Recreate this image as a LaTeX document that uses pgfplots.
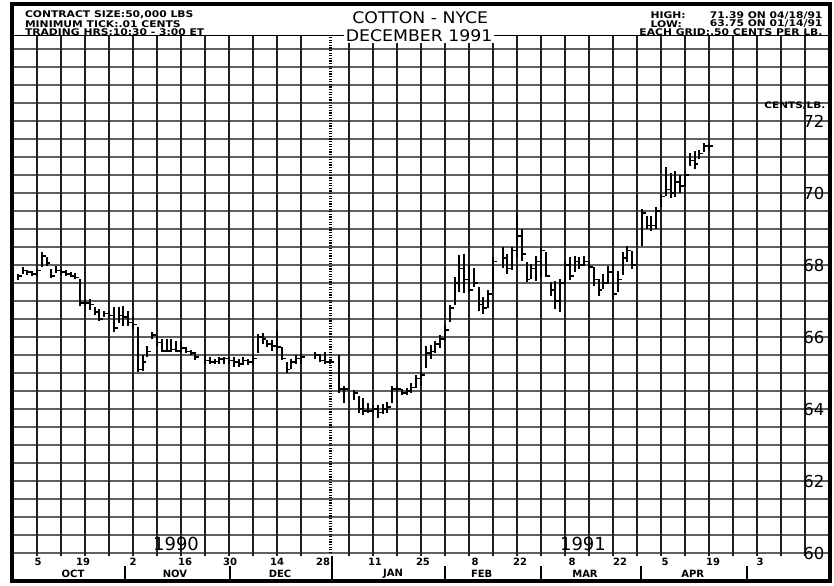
\documentclass[border=0pt]{standalone}
\usepackage{pgfplots}
\pgfplotsset{compat=1.18}
\usepackage{pgfplotstable}
\usepackage{fontspec}
\setmainfont{DejaVu Sans}
\newfontfamily\hdrfont[FakeStretch=1.17]{DejaVu Sans}
\newfontfamily\ttlfont[FakeStretch=1.08]{DejaVu Sans}

\pgfdeclareplotmark{closetick}{%
  \pgfpathmoveto{\pgfpoint{0pt}{0pt}}%
  \pgfpathlineto{\pgfpoint{3.8pt}{0pt}}%
  \pgfusepathqstroke}

% x = weeks after Fri 5 Oct 1990 (0.2 = one trading day); l = low, h = high, c = close (cents/lb)
\pgfplotstableread{
x l h c
-0.8 67.58 67.75 67.70
-0.6 67.75 67.95 67.85
-0.4 67.72 67.85 67.80
-0.2 67.70 67.82 67.75
0.0 67.68 67.90 67.85
0.2 67.95 68.35 68.25
0.4 67.98 68.22 68.05
0.6 67.65 67.90 67.70
0.8 67.78 67.98 67.85
1.0 67.72 67.90 67.80
1.2 67.70 67.85 67.75
1.4 67.66 67.80 67.70
1.6 67.62 67.78 67.65
1.8 66.85 67.60 66.95
2.0 66.85 67.05 66.95
2.2 66.75 67.06 66.90
2.4 66.60 66.83 66.70
2.6 66.45 66.78 66.50
2.8 66.55 66.73 66.65
3.0 66.50 66.73 66.60
3.2 66.15 66.83 66.25
3.4 66.38 66.83 66.60
3.6 66.32 66.87 66.55
3.8 66.32 66.73 66.40
4.0 66.23 66.55 66.35
4.2 65.02 66.27 65.10
4.4 65.07 65.49 65.30
4.6 65.44 65.76 65.60
4.8 65.95 66.13 66.05
5.0 65.76 66.04 65.85
5.2 65.58 65.95 65.62
5.4 65.58 65.95 65.62
5.6 65.58 65.95 65.65
5.8 65.58 65.90 65.62
6.0 65.58 65.90 65.70
6.2 65.55 65.72 65.60
6.4 65.49 65.64 65.55
6.6 65.35 65.58 65.45
7.0 65.26 65.50 65.35
7.2 65.26 65.44 65.30
7.4 65.26 65.40 65.32
7.6 65.26 65.44 65.38
7.8 65.26 65.44 65.40
8.0 65.26 65.44 65.35
8.2 65.16 65.44 65.30
8.4 65.16 65.40 65.25
8.6 65.21 65.44 65.35
8.8 65.21 65.40 65.30
9.0 65.21 65.49 65.40
9.2 65.55 66.09 66.00
9.4 65.82 66.10 65.95
9.6 65.72 65.92 65.80
9.8 65.62 65.92 65.75
10.0 65.67 66.18 65.72
10.2 65.35 65.72 65.40
10.4 65.00 65.30 65.10
10.6 65.12 65.40 65.30
10.8 65.26 65.49 65.40
11.0 65.26 65.53 65.45
11.6 65.40 65.58 65.50
11.8 65.30 65.53 65.35
12.0 65.26 65.58 65.30
12.2 65.25 65.38 65.30
12.6 64.44 65.51 64.55
12.8 64.17 64.63 64.55
13.2 64.26 64.54 64.45
13.4 63.89 64.35 64.00
13.6 63.84 64.31 63.95
13.8 63.89 64.17 63.95
14.0 63.89 64.12 64.00
14.2 63.75 64.12 63.90
14.4 63.85 64.15 64.00
14.6 63.90 64.20 64.05
14.8 64.17 64.63 64.55
15.0 64.50 64.63 64.55
15.2 64.40 64.55 64.45
15.4 64.40 64.58 64.50
15.6 64.44 64.72 64.60
15.8 64.58 64.95 64.85
16.0 64.67 65.04 64.95
16.2 65.14 65.74 65.55
16.4 65.40 65.78 65.60
16.6 65.55 65.88 65.80
16.8 65.69 66.05 65.95
17.0 65.90 66.34 66.20
17.2 66.43 66.89 66.80
17.4 66.89 67.68 67.50
17.6 67.26 68.28 67.90
17.8 67.22 68.32 67.60
18.0 67.26 68.00 67.30
18.2 67.38 67.93 67.50
18.4 66.73 67.38 66.90
18.6 66.65 67.10 66.80
18.8 66.80 67.30 67.20
19.0 67.33 68.21 68.10
19.4 67.93 68.50 68.20
19.6 67.76 68.30 67.90
19.8 67.85 68.50 68.40
20.0 68.21 69.41 68.80
20.2 68.12 69.00 68.30
20.4 67.52 68.08 67.60
20.6 67.61 68.03 67.90
20.8 67.57 68.26 68.10
21.0 67.66 68.49 68.40
21.2 67.66 68.35 67.70
21.4 67.15 67.52 67.30
21.6 66.78 67.57 67.00
21.8 66.69 67.61 67.50
22.0 67.47 68.12 68.00
22.2 67.57 68.21 67.70
22.4 67.80 68.26 68.10
22.6 67.89 68.21 68.00
22.8 67.98 68.26 68.10
23.0 67.89 68.08 67.95
23.2 67.43 67.94 67.60
23.4 67.15 67.61 67.30
23.6 67.34 67.75 67.50
23.8 67.47 67.98 67.80
24.0 67.06 68.03 67.20
24.2 67.24 67.84 67.60
24.4 67.71 68.35 68.20
24.6 68.08 68.54 68.40
24.8 67.89 68.40 68.00
25.2 68.54 69.55 69.45
25.4 69.00 69.37 69.10
25.6 68.95 69.35 69.10
25.8 69.00 69.60 69.50
26.0 69.60 69.97 69.90
26.2 69.92 70.71 70.10
26.4 69.85 70.55 70.00
26.6 69.90 70.60 70.30
26.8 70.00 70.50 70.20
27.0 70.20 70.60 70.50
27.2 70.75 71.12 70.90
27.4 70.66 71.17 70.80
27.6 70.95 71.20 71.10
27.8 71.15 71.39 71.30
28.0 71.20 71.35 71.30
}\bars

\begin{document}
\begin{tikzpicture}
\begin{axis}[
  width=818pt, height=545pt, scale only axis,
  xmin=-1.041667, xmax=33.041667, ymin=59.222222, ymax=74.361111,
  hide axis, clip=false,
  every node/.style={inner sep=0pt, outer sep=0pt},
]
% page extent
\path (axis cs:-1.541667,59.111111) rectangle (axis cs:33.208333,75.361111);
% horizontal grid, every 0.50 cent
\pgfplotsinvokeforeach{60,60.5,...,74}{%
  \draw[black!62, line width=2pt] (axis cs:-1.041667,#1) -- (axis cs:33.041667,#1);}
% vertical grid, every Friday
\pgfplotsinvokeforeach{-1,0,...,11}{%
  \draw[black!88, line width=2pt] (axis cs:#1,59.917) -- (axis cs:#1,74.361111);}
\pgfplotsinvokeforeach{13,14,...,32}{%
  \draw[black!88, line width=2pt] (axis cs:#1,59.917) -- (axis cs:#1,74.361111);}
% year change
\draw[line width=2.4pt, dash pattern=on 1.3pt off 1.3pt] (axis cs:12.229,60) -- (axis cs:12.229,74.361111);
% header separator
\draw[line width=1pt] (axis cs:-1.041667,74.361111) -- (axis cs:33.041667,74.361111);
% month boundaries
\pgfplotsinvokeforeach{3.667,8.042,17.0,21.0,25.167,29.583}{%
  \draw[line width=2pt] (axis cs:#1,59.64) -- (axis cs:#1,59.222222);}
\draw[line width=2pt] (axis cs:12.292,59.917) -- (axis cs:12.292,59.222222);
% frame
\draw[line width=4pt] (axis cs:-1.041667,59.222222) rectangle (axis cs:33.041667,75.25);

% day labels
\begin{scope}[every node/.append style={font=\bfseries\fontsize{10}{10}\selectfont}]
\node at (axis cs:0.042,59.75) {5};
\node at (axis cs:1.917,59.75) {19};
\node at (axis cs:4.0,59.75) {2};
\node at (axis cs:6.167,59.75) {16};
\node at (axis cs:8.042,59.75) {30};
\node at (axis cs:10.0,59.75) {14};
\node at (axis cs:11.917,59.75) {28};
\node at (axis cs:14.083,59.75) {11};
\node at (axis cs:16.083,59.75) {25};
\node at (axis cs:18.25,59.75) {8};
\node at (axis cs:20.125,59.75) {22};
\node at (axis cs:22.292,59.75) {8};
\node at (axis cs:24.292,59.75) {22};
\node at (axis cs:26.167,59.75) {5};
\node at (axis cs:28.167,59.75) {19};
\node at (axis cs:30.125,59.75) {3};
\node at (axis cs:1.5,59.416) {OCT};
\node at (axis cs:5.75,59.416) {NOV};
\node at (axis cs:10.125,59.416) {DEC};
\node at (axis cs:14.833,59.416) {JAN};
\node at (axis cs:18.529,59.416) {FEB};
\node at (axis cs:22.833,59.416) {MAR};
\node at (axis cs:27.321,59.416) {APR};
\end{scope}
% year labels
\node[font=\fontsize{18}{18}\selectfont] at (axis cs:5.792,60.25) {1990};
\node[font=\fontsize{18}{18}\selectfont] at (axis cs:22.75,60.25) {1991};
% price labels
\pgfplotsinvokeforeach{60,62,64,66,68,70,72}{%
  \node[anchor=east, font=\fontsize{16.5}{16.5}\selectfont] at (axis cs:32.958,#1) {#1};}
\node[anchor=east, font=\hdrfont\bfseries\fontsize{9}{9}\selectfont] at (axis cs:33.0,72.417) {CENTS/LB.};

% header
\begin{scope}[every node/.append style={font=\hdrfont\bfseries\fontsize{9.2}{9.2}\selectfont}]
\node[anchor=west] at (axis cs:-0.646,74.944) {CONTRACT SIZE:50,000 LBS};
\node[anchor=west] at (axis cs:-0.646,74.703) {MINIMUM TICK:.01 CENTS};
\node[anchor=west] at (axis cs:-0.646,74.472) {TRADING HRS:10:30 - 3:00 ET};
\node[anchor=west] at (axis cs:25.417,74.944) {HIGH:};
\node[anchor=west] at (axis cs:25.417,74.703) {LOW:};
\node[anchor=east] at (axis cs:32.875,74.944) {71.39 ON 04/18/91};
\node[anchor=east] at (axis cs:32.875,74.703) {63.75 ON 01/14/91};
\node[anchor=east] at (axis cs:32.875,74.472) {EACH GRID:.50 CENTS PER LB.};
\end{scope}
\node[font=\ttlfont\fontsize{16}{16}\selectfont] at (axis cs:15.97,74.861) {COTTON - NYCE};
\node[font=\ttlfont\fontsize{16}{16}\selectfont, fill=white, inner sep=1.5pt] at (axis cs:15.92,74.375) {DECEMBER 1991};

% daily high-low bars
\addplot[draw=none, mark=none,
  error bars/.cd, y dir=both, y explicit, error mark=none,
  error bar style={draw=black, line width=2pt, solid}]
  table[x=x, y expr={(\thisrow{h}+\thisrow{l})/2}, y error expr={(\thisrow{h}-\thisrow{l})/2}] {\bars};
% closing ticks
\addplot[black, only marks, mark=closetick, mark options={line width=1.7pt, solid}]
  table[x=x, y=c] {\bars};
\end{axis}
\end{tikzpicture}
\end{document}
